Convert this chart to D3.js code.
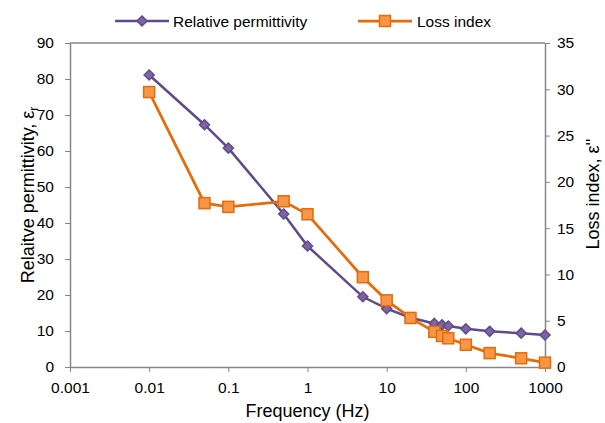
<!DOCTYPE html>
<html>
<head>
<meta charset="utf-8">
<script src="https://d3js.org/d3.v7.min.js"></script>
<style>
  body { margin: 0; background: #fff; }
  svg { font-family: "Liberation Sans", Arial, sans-serif; }
  .axis path, .axis line { stroke: #868686; }
  .axis text { font-size: 15.5px; fill: #000; }
</style>
</head>
<body>
<svg width="605" height="423"></svg>
<script>
// frequency (Hz)
var freq = [0.01, 0.05, 0.1, 0.5, 1, 5, 10, 20, 40, 50, 60, 100, 200, 500, 1000];
// relative permittivity (left axis)
var permittivity = [81.1, 67.3, 60.8, 42.5, 33.6, 19.5, 16.2, 13.7, 12.1, 11.7, 11.4, 10.6, 9.9, 9.4, 8.9];
// loss index (right axis)
var lossIndex = [29.7, 17.7, 17.3, 17.9, 16.5, 9.7, 7.2, 5.3, 3.8, 3.35, 3.1, 2.4, 1.5, 0.94, 0.47];

var xTicks = [0.001, 0.01, 0.1, 1, 10, 100, 1000];
var leftTicks = [0, 10, 20, 30, 40, 50, 60, 70, 80, 90];
var rightTicks = [0, 5, 10, 15, 20, 25, 30, 35];

var purple = "#5F4B8B", purpleFill = "#8064A2";
var orange = "#E46C0A", orangeFill = "#F79646";

var svg = d3.select("svg");
var plotL = 70, plotR = 545, plotT = 43, plotB = 367;

var x = d3.scaleLog().domain([0.001, 1000]).range([plotL, plotR]);
var yL = d3.scaleLinear().domain([0, 90]).range([plotB, plotT]);
var yR = d3.scaleLinear().domain([0, 35]).range([plotB, plotT]);

// top border
svg.append("line")
  .attr("x1", plotL).attr("x2", plotR)
  .attr("y1", plotT).attr("y2", plotT)
  .attr("stroke", "#868686").attr("stroke-width", 1.5);

svg.append("g").attr("class", "axis")
  .attr("transform", "translate(0," + plotB + ")")
  .call(d3.axisBottom(x).tickValues(xTicks).tickSize(5).tickSizeOuter(0)
    .tickFormat(function(d) { return String(d); }))
  .selectAll("text").attr("y", 26).attr("dy", 0);

svg.append("g").attr("class", "axis")
  .attr("transform", "translate(" + plotL + ",0)")
  .call(d3.axisLeft(yL).tickValues(leftTicks).tickSize(5).tickSizeOuter(0).tickPadding(11));

svg.append("g").attr("class", "axis")
  .attr("transform", "translate(" + plotR + ",0)")
  .call(d3.axisRight(yR).tickValues(rightTicks).tickSize(5).tickSizeOuter(0).tickPadding(7));

svg.selectAll(".axis .domain").attr("stroke-width", 1.5);

function diamond(sel, cx, cy) {
  sel.append("path")
    .attr("d", d3.symbol().type(d3.symbolDiamond2).size(64))
    .attr("transform", "translate(" + cx + "," + cy + ")")
    .attr("fill", purpleFill).attr("stroke", purple).attr("stroke-width", 1.5);
}
function square(sel, cx, cy) {
  sel.append("rect")
    .attr("x", cx - 5.5).attr("y", cy - 5.5)
    .attr("width", 11).attr("height", 11)
    .attr("fill", orangeFill).attr("stroke", orange).attr("stroke-width", 1.5);
}

// permittivity series
svg.append("path")
  .datum(freq)
  .attr("fill", "none").attr("stroke", purple).attr("stroke-width", 2.5)
  .attr("d", d3.line().x(function(d) { return x(d); })
    .y(function(d, i) { return yL(permittivity[i]); }));
var gP = svg.append("g");
freq.forEach(function(f, i) { diamond(gP, x(f), yL(permittivity[i])); });

// loss index series
svg.append("path")
  .datum(freq)
  .attr("fill", "none").attr("stroke", orange).attr("stroke-width", 2.75)
  .attr("d", d3.line().x(function(d) { return x(d); })
    .y(function(d, i) { return yR(lossIndex[i]); }));
var gO = svg.append("g");
freq.forEach(function(f, i) { square(gO, x(f), yR(lossIndex[i])); });

// legend
var lg = svg.append("g");
lg.append("line").attr("x1", 115).attr("x2", 169).attr("y1", 21).attr("y2", 21)
  .attr("stroke", purple).attr("stroke-width", 2.5);
diamond(lg, 142, 21);
lg.append("text").attr("x", 173).attr("y", 26.5).attr("font-size", 15.5).text("Relative permittivity");
lg.append("line").attr("x1", 358).attr("x2", 412).attr("y1", 21).attr("y2", 21)
  .attr("stroke", orange).attr("stroke-width", 2.75);
square(lg, 385, 21);
lg.append("text").attr("x", 417).attr("y", 26.5).attr("font-size", 15.5).text("Loss index");

// axis titles
svg.append("text")
  .attr("x", (plotL + plotR) / 2).attr("y", 417)
  .attr("text-anchor", "middle").attr("font-size", 18)
  .text("Frequency (Hz)");

var lt = svg.append("text")
  .attr("transform", "translate(34,195) rotate(-90)")
  .attr("text-anchor", "middle").attr("font-size", 18);
lt.append("tspan").text("Relaitve permittivity, ε");
lt.append("tspan").attr("font-size", 12).attr("dy", 4).text("r");

svg.append("text")
  .attr("transform", "translate(599,194) rotate(-90)")
  .attr("text-anchor", "middle").attr("font-size", 18)
  .text("Loss index, ε''");
</script>
</body>
</html>
